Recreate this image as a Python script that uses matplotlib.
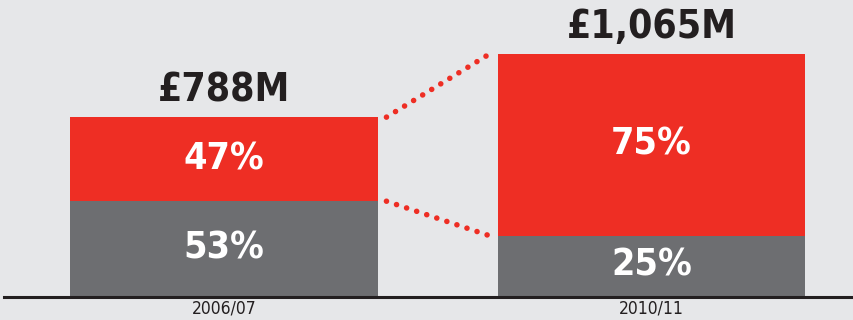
import matplotlib
matplotlib.use("Agg")
import matplotlib.pyplot as plt
from matplotlib import font_manager

categories = ["2006/07", "2010/11"]
totals = [788, 1065]
total_labels = ["£788M", "£1,065M"]
red_share = [47, 75]
gray_share = [53, 25]

RED = "#ee2e24"
GRAY = "#6d6e71"
BG = "#e6e7e9"
DARK = "#231f20"

names = {f.name for f in font_manager.fontManager.ttflist}
if "Liberation Sans Narrow" in names:
    FONT = ["Liberation Sans Narrow", "DejaVu Sans"]
    STRETCH = "normal"
else:
    FONT = ["DejaVu Sans"]
    STRETCH = "condensed"

fig = plt.figure(figsize=(8.54, 3.2), dpi=100, facecolor=BG)
ax = fig.add_axes([0, 0, 1, 1])
ax.set_facecolor(BG)

x = list(range(len(categories)))
width = 0.72
gray_h = [t * g / 100 for t, g in zip(totals, gray_share)]
red_h = [t * r / 100 for t, r in zip(totals, red_share)]

ax.bar(x, gray_h, width=width, color=GRAY, zorder=2)
ax.bar(x, red_h, bottom=gray_h, width=width, color=RED, zorder=2)

for i in x:
    ax.text(i, gray_h[i] / 2, f"{gray_share[i]}%", ha="center", va="center",
            color="white", fontsize=27, fontweight="bold", family=FONT, stretch=STRETCH)
    ax.text(i, gray_h[i] + red_h[i] / 2, f"{red_share[i]}%", ha="center", va="center",
            color="white", fontsize=27, fontweight="bold", family=FONT, stretch=STRETCH)
    ax.text(i, totals[i] + 35, total_labels[i], ha="center", va="bottom",
            color=DARK, fontsize=28, fontweight="bold", family=FONT, stretch=STRETCH)

# dotted connectors
gap = 0.02
x0 = x[0] + width / 2 + gap
x1 = x[1] - width / 2 - gap
ax.plot([x0, x1], [totals[0], totals[1]], color=RED, lw=4,
        linestyle=(0, (0.01, 1.9)), dash_capstyle="round", zorder=3)
ax.plot([x0, x1], [gray_h[0], gray_h[1]], color=RED, lw=4,
        linestyle=(0, (0.01, 1.9)), dash_capstyle="round", zorder=3)

# baseline
ax.axhline(-4, xmin=4 / 854, xmax=1, color=DARK, lw=2.2, zorder=4)

for i in x:
    ax.text(i, -96, categories[i], ha="center", va="bottom", color=DARK,
            fontsize=12.5, family=FONT, stretch=STRETCH)

ax.set_xlim(-0.524, 1.4737)
ax.set_ylim(-105.7, 1304)
ax.axis("off")

fig.savefig("out.png", dpi=100, facecolor=BG)
